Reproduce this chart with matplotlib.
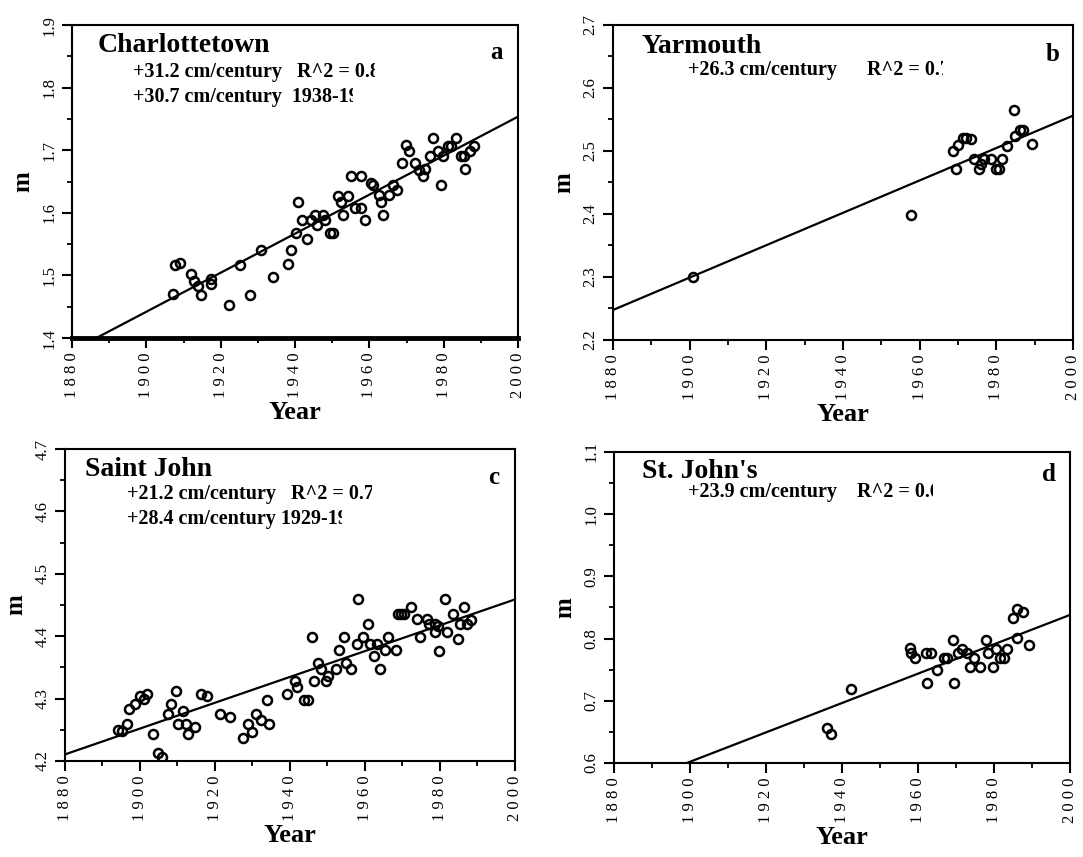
"""
Sea level trends at four Atlantic Canada tide gauges
"""

import numpy as np
import matplotlib
matplotlib.use('Agg')
import matplotlib.pyplot as plt
from matplotlib.ticker import MultipleLocator, FuncFormatter
from matplotlib.transforms import Bbox

# ---------------------------------------------------------------------------- #
# Data (annual mean sea level, m)
# ---------------------------------------------------------------------------- #
ch_years = [1907.1, 1907.7, 1909.1, 1912.0, 1912.9, 1914.0, 1914.7, 1917.5, 1917.5,
            1922.2, 1925.2, 1928.0, 1930.7, 1934.0, 1938.2, 1938.9, 1940.3, 1940.9,
            1941.8, 1943.1, 1944.2, 1945.3, 1946.0, 1947.4, 1948.0, 1949.3, 1950.2,
            1951.6, 1952.4, 1952.9, 1954.2, 1955.1, 1956.2, 1957.8, 1957.8, 1958.9,
            1960.4, 1960.9, 1962.5, 1963.1, 1963.7, 1965.3, 1966.2, 1967.4, 1968.7,
            1969.8, 1970.7, 1972.3, 1973.3, 1974.4, 1974.9, 1976.3, 1977.1, 1978.5,
            1979.1, 1979.7, 1981.2, 1982.0, 1983.3, 1984.7, 1985.3, 1985.8, 1987.1,
            1988.0]
ch_level = [1.471, 1.516, 1.520, 1.503, 1.491, 1.483, 1.469, 1.487, 1.494,
            1.453, 1.516, 1.469, 1.540, 1.498, 1.518, 1.540, 1.568, 1.618,
            1.588, 1.559, 1.588, 1.596, 1.580, 1.596, 1.588, 1.568, 1.568,
            1.627, 1.617, 1.596, 1.627, 1.659, 1.608, 1.659, 1.608, 1.588,
            1.647, 1.645, 1.629, 1.618, 1.596, 1.629, 1.645, 1.637, 1.679,
            1.708, 1.699, 1.679, 1.669, 1.659, 1.670, 1.691, 1.720, 1.699,
            1.645, 1.691, 1.707, 1.707, 1.720, 1.691, 1.691, 1.670, 1.699,
            1.707]

ya_years = [1900.8, 1957.7, 1968.7, 1969.6, 1970.0, 1971.3, 1972.2, 1973.4, 1974.3,
            1975.4, 1976.1, 1976.9, 1978.5, 1979.8, 1980.6, 1981.6, 1982.9, 1984.5,
            1984.8, 1986.2, 1987.1, 1989.2]
ya_level = [2.300, 2.398, 2.500, 2.471, 2.509, 2.521, 2.521, 2.519, 2.487,
            2.471, 2.480, 2.487, 2.487, 2.471, 2.471, 2.487, 2.508, 2.565,
            2.523, 2.533, 2.533, 2.511]

sj_years = [1894.2, 1895.1, 1896.5, 1897.2, 1898.7, 1900.1, 1901.2, 1902.0, 1903.4,
            1904.7, 1906.0, 1907.6, 1908.3, 1909.6, 1910.2, 1911.6, 1912.3, 1912.9,
            1914.7, 1916.4, 1917.9, 1921.4, 1924.1, 1927.4, 1928.9, 1930.0, 1930.9,
            1932.3, 1934.5, 1933.9, 1939.2, 1941.3, 1942.0, 1943.8, 1944.9, 1945.8,
            1946.3, 1947.6, 1948.4, 1949.6, 1950.2, 1952.3, 1953.2, 1954.5, 1954.9,
            1956.4, 1957.9, 1958.2, 1959.4, 1960.7, 1961.4, 1962.5, 1963.2, 1964.1,
            1965.3, 1966.2, 1968.3, 1968.7, 1969.6, 1970.3, 1972.3, 1973.9, 1974.8,
            1976.5, 1977.2, 1978.7, 1979.4, 1978.7, 1979.8, 1981.3, 1981.9, 1983.4,
            1984.7, 1985.4, 1986.3, 1987.2, 1988.3]
sj_level = [4.250, 4.248, 4.259, 4.284, 4.292, 4.304, 4.300, 4.308, 4.243,
            4.213, 4.207, 4.275, 4.291, 4.312, 4.259, 4.280, 4.259, 4.243,
            4.254, 4.307, 4.304, 4.275, 4.271, 4.237, 4.259, 4.246, 4.275,
            4.266, 4.259, 4.298, 4.307, 4.328, 4.319, 4.298, 4.298, 4.398,
            4.328, 4.357, 4.348, 4.328, 4.336, 4.348, 4.378, 4.398, 4.357,
            4.348, 4.387, 4.459, 4.398, 4.419, 4.387, 4.368, 4.387, 4.348,
            4.378, 4.398, 4.378, 4.436, 4.436, 4.436, 4.447, 4.427, 4.398,
            4.427, 4.419, 4.419, 4.416, 4.407, 4.377, 4.459, 4.407, 4.436,
            4.396, 4.419, 4.447, 4.419, 4.426]

sjn_years = [1936.0, 1937.2, 1942.4, 1957.8, 1958.2, 1959.1, 1962.0, 1963.3, 1962.4,
             1965.1, 1966.8, 1967.7, 1969.1, 1969.5, 1970.4, 1971.7, 1972.8, 1973.7,
             1974.8, 1976.4, 1977.8, 1978.4, 1979.7, 1980.6, 1981.5, 1982.6, 1983.5,
             1984.9, 1986.1, 1986.1, 1987.7, 1989.1]
sjn_level = [0.656, 0.646, 0.719, 0.785, 0.777, 0.769, 0.777, 0.777, 0.728,
             0.749, 0.769, 0.769, 0.797, 0.728, 0.777, 0.783, 0.777, 0.755,
             0.769, 0.755, 0.797, 0.777, 0.755, 0.783, 0.769, 0.769, 0.783,
             0.833, 0.848, 0.801, 0.842, 0.789]

# fitted trend lines: level at 2000 (m) and slope (m/yr) as drawn
trend_2000 = [1.754, 2.556, 4.459, 0.838]
trend_slope = [0.00312, 0.00257, 0.00207, 0.00236]

stations = ['Charlottetown', 'Yarmouth', 'Saint John', "St. John's"]
panel_letters = ['a', 'b', 'c', 'd']
notes = [['+31.2 cm/century   R^2 = 0.8', '+30.7 cm/century  1938-19'],
         ['+26.3 cm/century      R^2 = 0.7'],
         ['+21.2 cm/century   R^2 = 0.7', '+28.4 cm/century 1929-19'],
         ['+23.9 cm/century    R^2 = 0.6']]
# share of the last character of each note left visible (cut off in the scan)
note_visible = [[0.5, 0.4], [0.3], [0.8, 0.4], [0.3]]
ylims = [(1.4, 1.9), (2.2, 2.7), (4.2, 4.7), (0.6, 1.1)]

all_years = [ch_years, ya_years, sj_years, sjn_years]
all_levels = [ch_level, ya_level, sj_level, sjn_level]

# ---------------------------------------------------------------------------- #
# Layout (axes fractions)
# ---------------------------------------------------------------------------- #
positions = [[0.0665, 0.6056, 0.412, 0.365],
             [0.566, 0.6033, 0.4247, 0.3676],
             [0.060, 0.112, 0.4155, 0.364],
             [0.567, 0.1097, 0.421, 0.363]]
title_xy = [(0.058, 0.936), (0.063, 0.93), (0.044, 0.933), (0.061, 0.936)]
letter_xy = [(0.965, 0.914), (0.97, 0.905), (0.965, 0.91), (0.968, 0.926)]
note_x = [0.137, 0.163, 0.138, 0.162]
note_y = [[0.85, 0.77], [0.857], [0.856, 0.776], [0.871]]
note_size = 14.5

plt.rcParams['font.family'] = ['Liberation Serif', 'DejaVu Serif']
fig = plt.figure(figsize=(10.83, 8.57), dpi=100)

spaced = FuncFormatter(lambda v, p: ' '.join(f'{int(round(v))}'))

note_texts = []
for i in range(4):
    ax = fig.add_axes(positions[i])
    years = np.array(all_years[i])
    level = np.array(all_levels[i])

    ax.plot(years, level, 'o', mfc='none', mec='black', ms=6.5, mew=1.8,
            zorder=3)

    line_years = np.array([1880.0, 2000.0])
    ax.plot(line_years, trend_2000[i] + trend_slope[i] * (line_years - 2000),
            color='black', lw=1.6, zorder=2)

    ax.set_xlim(1880, 2000)
    ax.set_ylim(*ylims[i])
    ax.xaxis.set_major_locator(MultipleLocator(20))
    ax.xaxis.set_minor_locator(MultipleLocator(10))
    ax.yaxis.set_major_locator(MultipleLocator(0.1))
    ax.yaxis.set_minor_locator(MultipleLocator(0.05))
    ax.xaxis.set_major_formatter(spaced)
    ax.tick_params(axis='both', which='major', direction='out', length=7,
                   width=1.5, labelsize=12)
    ax.tick_params(axis='both', which='minor', direction='out', length=3.5,
                   width=1.3)
    ax.tick_params(axis='x', labelrotation=90)
    ax.tick_params(axis='y', labelrotation=90)
    for lab in ax.get_yticklabels():
        lab.set_verticalalignment('center')
    for sp in ax.spines.values():
        sp.set_linewidth(1.5)
    if i == 0:
        ax.spines['bottom'].set_linewidth(3.5)

    ax.set_xlabel('Year', fontsize=19, fontweight='bold', labelpad=2)
    ax.set_ylabel('m', fontsize=18, fontweight='bold', labelpad=5)

    ax.text(*title_xy[i], stations[i], transform=ax.transAxes, fontsize=20,
            fontweight='bold', ha='left', va='center')
    ax.text(*letter_xy[i], panel_letters[i], transform=ax.transAxes,
            fontsize=18, fontweight='bold', ha='right', va='center')

    for note, ny, vis in zip(notes[i], note_y[i], note_visible[i]):
        t = ax.text(note_x[i], ny, note, transform=ax.transAxes,
                    fontsize=note_size, fontweight='bold', ha='left',
                    va='center')
        note_texts.append((t, vis))

# cut the notes off on the right, as in the scanned original
fig.canvas.draw()
renderer = fig.canvas.get_renderer()
digit_px = 0.5 * note_size * fig.dpi / 72
for t, vis in note_texts:
    ext = t.get_window_extent(renderer)
    cut = ext.x1 - (1 - vis) * digit_px
    t.set_clip_path(None)
    t.set_clip_on(True)
    t.set_clip_box(Bbox([[0, 0], [cut, fig.bbox.height]]))

fig.savefig('out.png', dpi=100)
